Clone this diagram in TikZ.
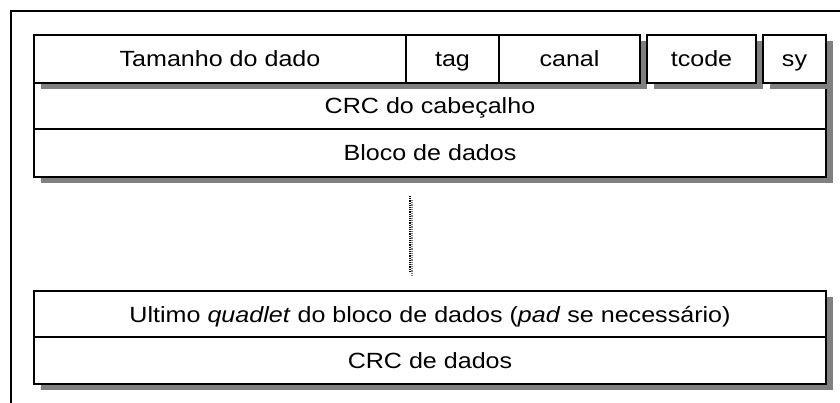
\documentclass[tikz,border=0pt]{standalone}
\usepackage{fontspec}
\setmainfont{Liberation Sans}[FakeStretch=1.14]
\usetikzlibrary{shadows}
\definecolor{shadowgray}{HTML}{808080}
\tikzset{
  fld/.style={draw=black, fill=white, line width=1.9pt, inner sep=0pt, outer sep=0pt,
    minimum height=#1, text height=16pt, text depth=0pt,
    font=\fontsize{22}{24}\selectfont,
    drop shadow={shadow xshift=7pt, shadow yshift=-6pt, fill=shadowgray, opacity=1}},
  fld/.default=46pt,
  frame/.style={draw=black, line width=2pt},
}
\begin{document}
\begin{tikzpicture}[x=1pt,y=-1pt]
\useasboundingbox (0,0) rectangle (840,403);
\clip (0,0) rectangle (840,403);
% outer frame
\draw[frame] (11,11) rectangle (860,430);
% header CRC and data block
\node[fld=46pt, minimum width=792pt] (crch) at (430,106) {CRC do cabeçalho};
\node[fld=48pt, minimum width=792pt] (bloco) at (430,153) {Bloco de dados};
% header fields
\node[fld=48pt, minimum width=372pt] (tam) at (220,59) {Tamanho do dado};
\node[fld=48pt, minimum width=93pt] (tag) at (452.5,59) {tag};
\node[fld=48pt, minimum width=141pt] (canal) at (569.5,59) {canal};
\node[fld=48pt, minimum width=109pt] (tcode) at (701.5,59) {tcode};
\node[fld=48pt, minimum width=63pt] (sy) at (794.5,59) {sy};
% continuation
\coordinate (d1) at (410,196);
\coordinate (d2) at (410,272);
\coordinate (e1) at (412,200);
\coordinate (e2) at (412,276);
\draw[line width=1.2pt, shadowgray, densely dotted] (e1) -- (e2);
\draw[line width=1.2pt, black, densely dotted] (d1) -- (d2);
% last quadlet and data CRC
\node[fld=46pt, minimum width=792pt] (ult) at (430,314) {Ultimo \textit{quadlet} do bloco de dados (\textit{pad} se necessário)};
\node[fld=47pt, minimum width=792pt] (crcd) at (430,360.5) {CRC de dados};
\end{tikzpicture}
\end{document}
